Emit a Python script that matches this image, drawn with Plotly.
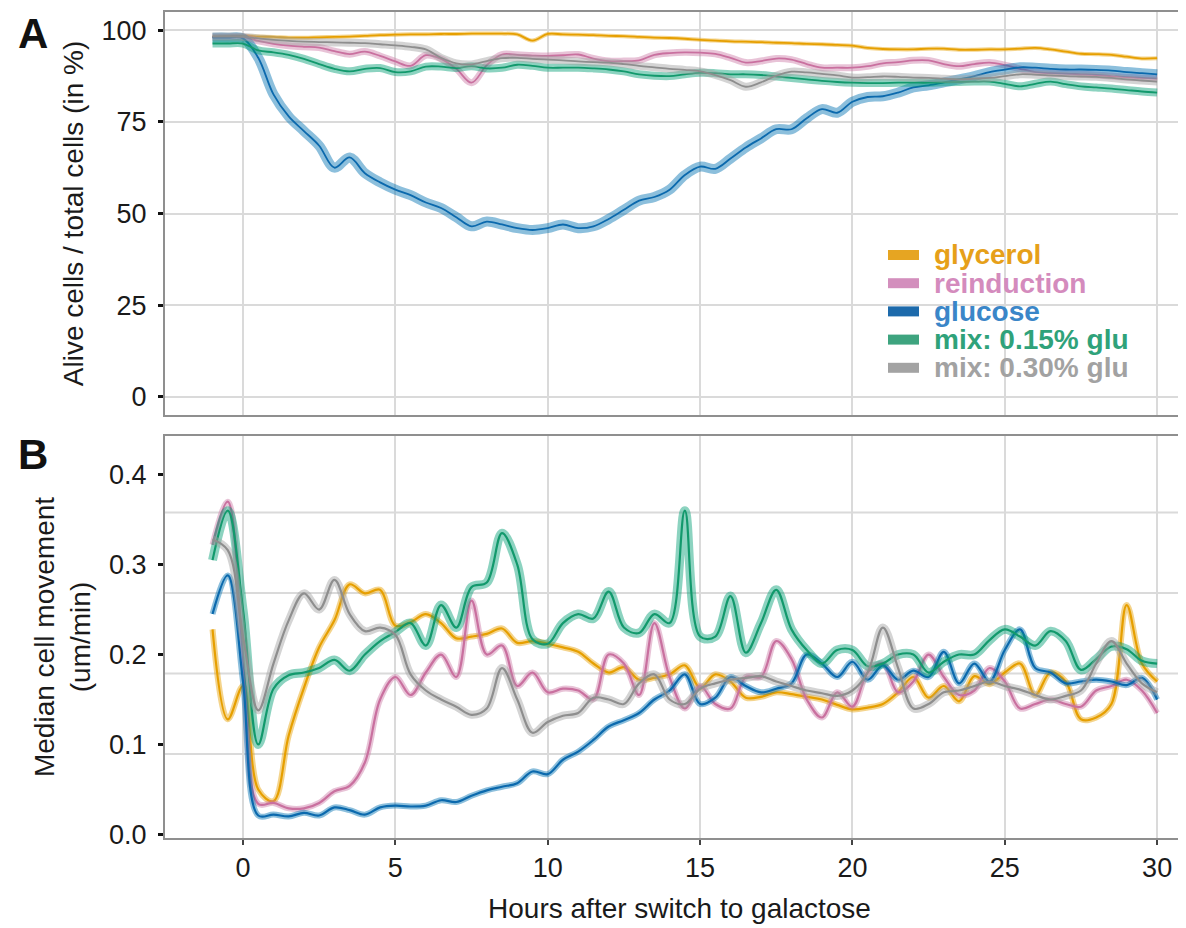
import plotly.graph_objects as go

# ---------------- data ----------------
hours = [-1.0, -0.5,
         0.0, 0.5, 1.0, 1.5, 2.0, 2.5, 3.0, 3.5, 4.0, 4.5,
         5.0, 5.5, 6.0, 6.5, 7.0, 7.5, 8.0, 8.5, 9.0, 9.5,
         10.0, 10.5, 11.0, 11.5, 12.0, 12.5, 13.0, 13.5, 14.0, 14.5,
         15.0, 15.5, 16.0, 16.5, 17.0, 17.5, 18.0, 18.5, 19.0, 19.5,
         20.0, 20.5, 21.0, 21.5, 22.0, 22.5, 23.0, 23.5, 24.0, 24.5,
         25.0, 25.5, 26.0, 26.5, 27.0, 27.5, 28.0, 28.5, 29.0, 29.5,
         30.0]

series_names = ["glycerol", "reinduction", "glucose", "mix: 0.15% glu", "mix: 0.30% glu"]

# Panel A: alive cells / total cells (%)
alive_glycerol = [98.3, 98.4,
                  98.5, 98.3, 98.2, 98.0, 98.0, 98.1, 98.2, 98.3, 98.5, 98.7,
                  98.8, 98.9, 98.9, 99.0, 99.0, 99.1, 99.1, 99.1, 98.9, 97.2,
                  99.0, 98.9, 98.8, 98.7, 98.5, 98.4, 98.2, 98.0, 97.9, 97.7,
                  97.4, 97.2, 97.0, 96.9, 96.8, 96.6, 96.5, 96.3, 96.2, 96.0,
                  95.8, 95.2, 94.9, 94.8, 94.8, 95.0, 95.0, 94.7, 94.7, 94.8,
                  94.8, 95.0, 95.2, 94.8, 94.2, 93.6, 93.5, 93.3, 92.8, 92.3,
                  92.4]
alive_reinduction = [98.2, 98.2,
                     98.2, 97.1, 96.3, 95.8, 95.5, 95.3, 94.3, 93.5, 94.2, 93.0,
                     91.5, 90.3, 93.2, 92.2, 89.5, 85.7, 90.5, 93.4, 93.3, 93.1,
                     93.0, 93.2, 93.4, 92.3, 91.6, 91.6, 91.8, 93.3, 93.8, 94.0,
                     93.9, 93.6, 92.5, 91.2, 91.6, 92.3, 92.0, 90.8, 89.8, 89.8,
                     89.8, 90.2, 91.0, 91.3, 91.8, 91.8, 90.8, 90.2, 90.8, 91.2,
                     90.5, 89.5, 88.6, 88.3, 88.2, 88.0, 87.8, 87.5, 87.2, 87.0,
                     86.8]
alive_glucose = [98.0, 98.0,
                 97.8, 92.5, 82.5, 76.5, 72.5, 68.5, 62.5, 65.3, 61.0, 58.5,
                 56.5, 55.0, 53.0, 51.5, 49.0, 46.5, 47.8, 47.0, 46.0, 45.5,
                 46.0, 47.0, 46.0, 46.5, 48.5, 51.0, 53.5, 54.5, 56.5, 60.5,
                 62.8, 62.2, 65.0, 68.0, 70.5, 73.0, 73.0, 76.0, 78.5, 77.5,
                 80.5, 81.8, 82.0, 83.0, 84.4, 85.0, 85.8, 86.6, 87.5, 88.6,
                 89.3, 89.9, 89.8, 89.5, 89.3, 89.3, 89.2, 89.0, 88.6, 88.3,
                 88.0]
alive_mix015 = [96.4, 96.4,
                96.4, 94.5, 94.0, 93.3, 92.2, 90.8, 89.5, 88.8, 89.5, 89.7,
                88.6, 88.8, 90.1, 90.1, 89.7, 90.2, 89.6, 89.8, 90.6, 90.3,
                89.8, 89.8, 89.8, 89.6, 89.3, 88.8, 88.0, 87.6, 87.5, 88.0,
                88.4, 88.3, 88.0, 88.0, 87.8, 87.4, 87.0, 86.6, 86.2, 85.9,
                85.7, 85.6, 85.6, 85.7, 85.7, 85.7, 85.8, 85.9, 86.0, 86.0,
                85.4, 84.7, 85.4, 86.0, 85.3, 84.7, 84.4, 84.1, 83.7, 83.3,
                83.0]
alive_mix030 = [98.3, 98.3,
                98.2, 97.8, 97.4, 97.1, 96.9, 96.8, 96.7, 96.6, 96.5, 96.2,
                95.9, 95.5, 94.8, 92.5, 91.0, 90.7, 91.6, 92.4, 92.5, 92.2,
                92.0, 91.8, 91.5, 91.3, 91.2, 90.8, 90.3, 89.9, 89.5, 89.2,
                88.8, 87.8, 86.4, 84.6, 85.8, 87.6, 88.7, 88.5, 88.1, 87.7,
                87.1, 87.2, 87.4, 87.3, 87.1, 87.0, 86.8, 86.6, 86.8, 87.0,
                87.5, 88.0, 87.9, 87.7, 87.5, 87.4, 87.3, 87.0, 86.6, 86.3,
                86.0]

# Panel B: median cell movement (um/min)
move_glycerol = [0.228, 0.128,
                 0.165, 0.050, 0.037, 0.110, 0.163, 0.208, 0.238, 0.278, 0.268, 0.272,
                 0.232, 0.236, 0.245, 0.235, 0.218, 0.220, 0.223, 0.229, 0.213, 0.215,
                 0.212, 0.208, 0.203, 0.190, 0.180, 0.186, 0.172, 0.174, 0.178, 0.188,
                 0.163, 0.178, 0.170, 0.152, 0.153, 0.158, 0.156, 0.153, 0.150, 0.144,
                 0.139, 0.141, 0.145, 0.158, 0.175, 0.152, 0.165, 0.148, 0.176, 0.167,
                 0.180, 0.190, 0.155, 0.180, 0.170, 0.128, 0.130, 0.145, 0.255, 0.190,
                 0.170]
move_reinduction = [0.322, 0.370,
                    0.200, 0.034, 0.035, 0.029, 0.029, 0.035, 0.048, 0.054, 0.080, 0.150,
                    0.175, 0.155, 0.180, 0.200, 0.175, 0.260, 0.200, 0.210, 0.165, 0.180,
                    0.158, 0.162, 0.160, 0.150, 0.200, 0.190, 0.155, 0.235, 0.175, 0.140,
                    0.165, 0.145, 0.140, 0.175, 0.175, 0.215, 0.195, 0.150, 0.130, 0.158,
                    0.142, 0.180, 0.190, 0.158, 0.170, 0.200, 0.175, 0.155, 0.160, 0.185,
                    0.170, 0.140, 0.145, 0.150, 0.145, 0.142, 0.160, 0.165, 0.172, 0.160,
                    0.135]
move_glucose = [0.245, 0.288,
                0.170, 0.021, 0.022, 0.020, 0.024, 0.021, 0.030, 0.027, 0.022, 0.030,
                0.032, 0.031, 0.032, 0.038, 0.036, 0.043, 0.049, 0.053, 0.057, 0.070,
                0.067, 0.083, 0.092, 0.105, 0.120, 0.127, 0.135, 0.150, 0.160, 0.178,
                0.145, 0.152, 0.175, 0.165, 0.158, 0.162, 0.168, 0.200, 0.190, 0.175,
                0.192, 0.172, 0.188, 0.172, 0.182, 0.175, 0.203, 0.168, 0.190, 0.170,
                0.205, 0.228, 0.185, 0.180, 0.168, 0.170, 0.172, 0.170, 0.166, 0.174,
                0.150]
move_mix015 = [0.305, 0.360,
               0.250, 0.100, 0.162, 0.177, 0.180, 0.185, 0.194, 0.182, 0.200, 0.215,
               0.225, 0.235, 0.210, 0.255, 0.230, 0.275, 0.280, 0.335, 0.300, 0.217,
               0.212, 0.235, 0.245, 0.240, 0.270, 0.230, 0.224, 0.245, 0.235, 0.360,
               0.220, 0.220, 0.265, 0.202, 0.235, 0.272, 0.228, 0.205, 0.190, 0.205,
               0.205, 0.187, 0.190, 0.200, 0.200, 0.180, 0.192, 0.200, 0.200, 0.216,
               0.228, 0.220, 0.210, 0.226, 0.215, 0.183, 0.195, 0.209, 0.206, 0.193,
               0.190]
move_mix030 = [0.328, 0.316,
               0.220, 0.138, 0.190, 0.238, 0.268, 0.250, 0.283, 0.245, 0.226, 0.230,
               0.222, 0.178, 0.160, 0.150, 0.142, 0.133, 0.140, 0.185, 0.150, 0.113,
               0.125, 0.132, 0.135, 0.152, 0.150, 0.145, 0.168, 0.178, 0.150, 0.145,
               0.162, 0.168, 0.172, 0.174, 0.176, 0.170, 0.165, 0.160, 0.157, 0.154,
               0.160, 0.180, 0.230, 0.185, 0.140, 0.145, 0.158, 0.160, 0.165, 0.170,
               0.165, 0.161, 0.155, 0.150, 0.154, 0.160, 0.190, 0.215, 0.190, 0.168,
               0.158]

alive = [alive_glycerol, alive_reinduction, alive_glucose, alive_mix015, alive_mix030]
move = [move_glycerol, move_reinduction, move_glucose, move_mix015, move_mix030]
for arr in alive + move:
    assert len(arr) == len(hours), len(arr)

# ---------------- style ----------------
line_colors = ["#E69F00", "#C9709F", "#0B69AD", "#12996C", "#8E8E8E"]
band_rgb = [(230, 159, 0), (204, 121, 167), (0, 114, 178), (0, 158, 115), (160, 160, 160)]
band_w_a = [4, 7, 10, 8, 8]
band_w_b = [6, 6, 6, 9, 8]
legend_text_colors = ["#E6A019", "#D48BBD", "#3A86C8", "#2FA27A", "#A2A2A2"]
legend_key_colors = ["#E6A522", "#D38FBD", "#1D6AAB", "#3EA47F", "#A3A3A3"]
FONT = "Liberation Sans, Arial, Helvetica, sans-serif"
GRID = "#DADADA"
BORDER = "#8F8F8F"

# page is offset by the default 8px body margin; layout is expressed in page pixels
OFF = 8
W, H = 1186, 928
ML = 165 - OFF           # plot left edge at page x=165
MT = 12 - OFF            # panel A top at page y=12
MB = H - (838 - OFF)     # panel B bottom at page y=838
MR = 0
PW, PH = W - ML - MR, H - MT - MB


def px_x(px):
    return (px - OFF - ML) / PW


def px_y(py):
    return (H - MB - (py - OFF)) / PH


fig = go.Figure()

for i, name in enumerate(series_names):
    r, g, b = band_rgb[i]
    band = f"rgba({r},{g},{b},0.45)"
    # panel A
    fig.add_trace(go.Scatter(x=hours, y=alive[i], mode="lines", xaxis="x2", yaxis="y2",
                             line=dict(color=band, width=band_w_a[i], shape="spline", smoothing=1.0),
                             hoverinfo="skip", showlegend=False))
    fig.add_trace(go.Scatter(x=hours, y=alive[i], mode="lines", xaxis="x2", yaxis="y2", name=name,
                             line=dict(color=line_colors[i], width=1.8, shape="spline", smoothing=1.0),
                             showlegend=False))
    # panel B
    fig.add_trace(go.Scatter(x=hours, y=move[i], mode="lines", xaxis="x", yaxis="y",
                             line=dict(color=band, width=band_w_b[i], shape="spline", smoothing=1.0),
                             hoverinfo="skip", showlegend=False))
    fig.add_trace(go.Scatter(x=hours, y=move[i], mode="lines", xaxis="x", yaxis="y", name=name,
                             line=dict(color=line_colors[i], width=2.2, shape="spline", smoothing=1.0),
                             showlegend=False))

# x: 0 h at page x=243, 30 h at page x=1157
x_range = [-2.56, 31.21]
b_dom = [0, px_y(436)]
a_dom = [px_y(415), 1]

axis_common = dict(showline=True, linecolor=BORDER, linewidth=2, zeroline=False, automargin=False,
                   tickfont=dict(family=FONT, size=27, color="#1A1A1A"))

fig.update_layout(
    width=W, height=H,
    margin=dict(l=ML, r=MR, t=MT, b=MB, autoexpand=False),
    plot_bgcolor="white", paper_bgcolor="white",
    showlegend=False,
    font=dict(family=FONT, color="#1A1A1A"),
    xaxis=dict(domain=[0, 1], anchor="y", range=x_range, tickvals=[0, 5, 10, 15, 20, 25, 30],
               showgrid=True, gridcolor=GRID, gridwidth=2, mirror=True,
               ticks="outside", ticklen=5, tickwidth=2, tickcolor="#444",
               title=dict(text="Hours after switch to galactose", font=dict(family=FONT, size=28), standoff=16),
               **axis_common),
    xaxis2=dict(domain=[0, 1], anchor="y2", matches="x", range=x_range, tickvals=[0, 5, 10, 15, 20, 25, 30],
                showgrid=True, gridcolor=GRID, gridwidth=2, mirror=True,
                showticklabels=False, ticks="", **axis_common),
    yaxis=dict(domain=b_dom, anchor="x", range=[-0.004, 0.443],
               tickvals=[0.0, 0.1, 0.2, 0.3, 0.4], ticktext=["0.0", "0.1", "0.2", "0.3", "0.4"],
               showgrid=False, ticks="outside", ticklen=5, tickwidth=3, tickcolor="#111",
               ticklabelstandoff=6,
               title=dict(text="Median cell movement<br>(um/min)", font=dict(family=FONT, size=28), standoff=10),
               **axis_common),
    yaxis2=dict(domain=a_dom, anchor="x2", range=[-5, 105], tickvals=[0, 25, 50, 75, 100],
                showgrid=True, gridcolor=GRID, gridwidth=2,
                ticks="outside", ticklen=5, tickwidth=3, tickcolor="#111",
                ticklabelstandoff=6,
                title=dict(text="Alive cells / total cells (in %)", font=dict(family=FONT, size=28), standoff=10),
                **axis_common),
)

# panel B horizontal guide lines
b_grid = [0.0895, 0.179, 0.2685, 0.358]
for gy in b_grid:
    fig.add_shape(type="line", xref="x domain", yref="y", x0=0, x1=1, y0=gy, y1=gy,
                  line=dict(color=GRID, width=2), layer="below")

# legend (inside panel A), page pixel positions
leg_top, leg_step = 255, 28.2
for i, name in enumerate(series_names):
    cy = leg_top + i * leg_step
    fig.add_shape(type="rect", xref="paper", yref="paper",
                  x0=px_x(888), x1=px_x(919), y0=px_y(cy + 5), y1=px_y(cy - 5),
                  fillcolor=legend_key_colors[i], line=dict(width=0))
    fig.add_annotation(xref="paper", yref="paper", x=px_x(933), y=px_y(cy),
                       xanchor="left", yanchor="middle", showarrow=False, borderpad=0,
                       text=f"<b>{name}</b>",
                       font=dict(family=FONT, size=28, color=legend_text_colors[i]))

# panel letters
for letter, py in [("A", 33), ("B", 455)]:
    fig.add_annotation(xref="paper", yref="paper", x=px_x(33), y=px_y(py),
                       xanchor="center", yanchor="middle", showarrow=False,
                       text=f"<b>{letter}</b>", font=dict(family=FONT, size=42, color="#111"))

fig.write_html("out.html")
